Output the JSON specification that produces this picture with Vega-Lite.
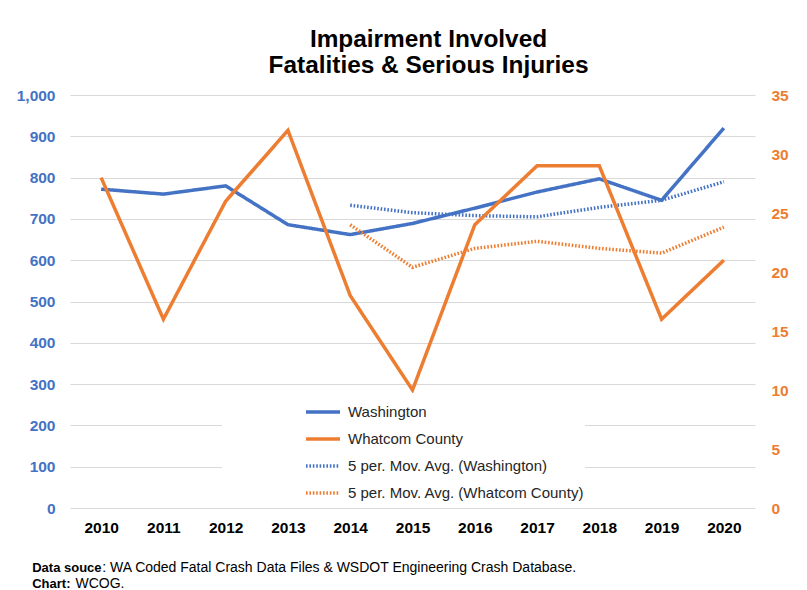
{
  "$schema": "https://vega.github.io/schema/vega-lite/v6.json",
  "width": 685,
  "height": 413,
  "autosize": {"type": "none"},
  "padding": {"left": 70, "top": 95, "right": 52, "bottom": 82},
  "background": "white",
  "config": {
    "font": "Liberation Sans",
    "view": {"stroke": null},
    "axis": {"domain": false, "ticks": false, "gridColor": "#d9d9d9", "gridWidth": 1}
  },
  "title": {
    "text": ["Impairment Involved", "Fatalities & Serious Injuries"],
    "fontSize": 24.4,
    "fontWeight": "bold",
    "color": "#000000",
    "anchor": "middle",
    "dx": 16,
    "offset": 9.5,
    "lineHeight": 26.5
  },
  "layer": [
    {
      "data": {
        "values": [
          {"year": "2010", "series": "Washington", "value": 772},
          {"year": "2011", "series": "Washington", "value": 760},
          {"year": "2012", "series": "Washington", "value": 780},
          {"year": "2013", "series": "Washington", "value": 686},
          {"year": "2014", "series": "Washington", "value": 662},
          {"year": "2015", "series": "Washington", "value": 689},
          {"year": "2016", "series": "Washington", "value": 726},
          {"year": "2017", "series": "Washington", "value": 765},
          {"year": "2018", "series": "Washington", "value": 797},
          {"year": "2019", "series": "Washington", "value": 745},
          {"year": "2020", "series": "Washington", "value": 920},
          {"year": "2014", "series": "5 per. Mov. Avg. (Washington)", "value": 733},
          {"year": "2015", "series": "5 per. Mov. Avg. (Washington)", "value": 715},
          {"year": "2016", "series": "5 per. Mov. Avg. (Washington)", "value": 708},
          {"year": "2017", "series": "5 per. Mov. Avg. (Washington)", "value": 705},
          {"year": "2018", "series": "5 per. Mov. Avg. (Washington)", "value": 728},
          {"year": "2019", "series": "5 per. Mov. Avg. (Washington)", "value": 745},
          {"year": "2020", "series": "5 per. Mov. Avg. (Washington)", "value": 790}
        ]
      },
      "mark": {"type": "line", "strokeCap": "butt"},
      "encoding": {
        "x": {
          "field": "year", "type": "ordinal",
          "scale": {"type": "point", "padding": 0.5},
          "axis": {
            "grid": false, "labelAngle": 0, "labelFontSize": 15.5, "labelFontWeight": "bold",
            "labelColor": "#000000", "labelPadding": 12,
            "title": ": WA Coded Fatal Crash Data Files & WSDOT Engineering Crash Database.",
            "titleFontSize": 14, "titleFontWeight": "normal", "titleColor": "#000000",
            "titleAlign": "left", "titleAnchor": null, "titleBaseline": "alphabetic",
            "titleX": 31.7, "titleY": 63
          }
        },
        "y": {
          "field": "value", "type": "quantitative",
          "scale": {"domain": [0, 1000], "nice": false},
          "axis": {
            "orient": "left", "grid": true, "values": [0, 100, 200, 300, 400, 500, 600, 700, 800, 900, 1000],
            "format": ",.0f", "labelFontSize": 15.5, "labelFontWeight": "bold", "labelColor": "#4472C4",
            "labelPadding": 15,
            "title": ["Data souce", "Chart:"],
            "titleFontSize": 13, "titleFontWeight": "bold", "titleColor": "#000000",
            "titleAngle": 0, "titleAlign": "left", "titleAnchor": null, "titleBaseline": "alphabetic",
            "titleLineHeight": 16, "titleX": -38.3, "titleY": 476
          }
        },
        "color": {
          "field": "series", "type": "nominal",
          "scale": {
            "domain": ["Washington", "Whatcom County", "5 per. Mov. Avg. (Washington)", "5 per. Mov. Avg. (Whatcom County)"],
            "range": ["#4472C4", "#ED7D31", "#4472C4", "#ED7D31"]
          },
          "legend": {
            "title": null, "orient": "none", "legendX": 152, "legendY": 298,
            "fillColor": "white", "padding": 0,
            "symbolType": "stroke", "symbolSize": 1156, "symbolOffset": 82,
            "labelFontSize": 15, "labelColor": "#262626", "labelOffset": 6, "labelLimit": 400,
            "rowPadding": 0
          }
        },
        "strokeDash": {
          "field": "series", "type": "nominal",
          "scale": {
            "domain": ["Washington", "Whatcom County", "5 per. Mov. Avg. (Washington)", "5 per. Mov. Avg. (Whatcom County)"],
            "range": [[1, 0], [1, 0], [1.6, 1.8], [1.6, 1.8]]
          }
        },
        "strokeWidth": {
          "field": "series", "type": "nominal",
          "scale": {
            "domain": ["Washington", "Whatcom County", "5 per. Mov. Avg. (Washington)", "5 per. Mov. Avg. (Whatcom County)"],
            "range": [3.5, 3.5, 2, 2]
          }
        }
      }
    },
    {
      "data": {
        "values": [
          {"year": "2010", "series": "Whatcom County", "value": 28},
          {"year": "2011", "series": "Whatcom County", "value": 16},
          {"year": "2012", "series": "Whatcom County", "value": 26},
          {"year": "2013", "series": "Whatcom County", "value": 32},
          {"year": "2014", "series": "Whatcom County", "value": 18},
          {"year": "2015", "series": "Whatcom County", "value": 10},
          {"year": "2016", "series": "Whatcom County", "value": 24},
          {"year": "2017", "series": "Whatcom County", "value": 29},
          {"year": "2018", "series": "Whatcom County", "value": 29},
          {"year": "2019", "series": "Whatcom County", "value": 16},
          {"year": "2020", "series": "Whatcom County", "value": 21},
          {"year": "2014", "series": "5 per. Mov. Avg. (Whatcom County)", "value": 24},
          {"year": "2015", "series": "5 per. Mov. Avg. (Whatcom County)", "value": 20.4},
          {"year": "2016", "series": "5 per. Mov. Avg. (Whatcom County)", "value": 22},
          {"year": "2017", "series": "5 per. Mov. Avg. (Whatcom County)", "value": 22.6},
          {"year": "2018", "series": "5 per. Mov. Avg. (Whatcom County)", "value": 22},
          {"year": "2019", "series": "5 per. Mov. Avg. (Whatcom County)", "value": 21.6},
          {"year": "2020", "series": "5 per. Mov. Avg. (Whatcom County)", "value": 23.8}
        ]
      },
      "mark": {"type": "line", "strokeCap": "butt"},
      "encoding": {
        "x": {"field": "year", "type": "ordinal"},
        "y": {
          "field": "value", "type": "quantitative",
          "scale": {"domain": [0, 35], "nice": false},
          "axis": {
            "orient": "right", "grid": false, "values": [0, 5, 10, 15, 20, 25, 30, 35],
            "labelFontSize": 15.5, "labelFontWeight": "bold", "labelColor": "#ED7D31",
            "labelPadding": 16,
            "title": "WCOG.",
            "titleFontSize": 14, "titleFontWeight": "normal", "titleColor": "#000000",
            "titleAngle": 0, "titleAlign": "left", "titleAnchor": null, "titleBaseline": "alphabetic",
            "titleX": -680, "titleY": 492
          }
        },
        "color": {"field": "series", "type": "nominal"},
        "strokeDash": {"field": "series", "type": "nominal"},
        "strokeWidth": {"field": "series", "type": "nominal"}
      }
    }
  ],
  "resolve": {"scale": {"y": "independent"}}
}
